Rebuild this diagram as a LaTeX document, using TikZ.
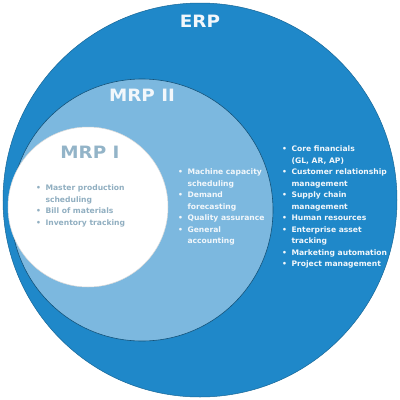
\documentclass[tikz,border=0pt]{standalone}
\usepackage{fontspec}
\setmainfont{DejaVu Sans}
\newfontfamily\headfont[FakeStretch=1.08]{DejaVu Sans}
\usetikzlibrary{positioning}
\definecolor{erpblue}{HTML}{1F88C9}
\definecolor{mrpblue}{HTML}{7CB8DF}
\definecolor{mrpgray}{HTML}{93B4C8}
\definecolor{soft}{HTML}{F2F7FB}
\newcommand{\blist}[1]{{\fontsize{7.6}{11.5}\selectfont\begin{tabular}{@{}l@{\hspace{4.5pt}}l@{}}#1\end{tabular}}}

\begin{document}
\begin{tikzpicture}[x=1pt,y=-1pt,
  ring/.style={circle,inner sep=0pt},
  head/.style={font=\headfont\bfseries\fontsize{17}{17}\selectfont},
  list/.style={font=\bfseries,anchor=north west,inner sep=0pt}]
\useasboundingbox[fill=white](0,0)rectangle(400,400);
\node[ring,fill=erpblue,draw=erpblue!75!black,line width=.5pt,minimum size=394pt](erp)at(200,200){};
\node[ring,fill=mrpblue,draw=erpblue!60!black,line width=.6pt,minimum size=262pt](mrp2)at(142,210){};
\node[ring,fill=white,draw=black!15,line width=.5pt,minimum size=160pt](mrp1)at(88,207){};
\node[head,text=soft](erpT)at(200,21){ERP};
\node[head,text=soft](mrp2T)at(142,95){MRP II};
\node[head,text=mrpgray](mrp1T)at(90,152){MRP I};
\node[list,text=mrpgray!90!gray](mrp1L)at(36,182.5){\blist{%
  \textbullet&Master production\\&scheduling\\
  \textbullet&Bill of materials\\
  \textbullet&Inventory tracking}};
\node[list,text=soft](mrp2L)at(178,166.5){\blist{%
  \textbullet&Machine capacity\\&scheduling\\
  \textbullet&Demand\\&forecasting\\
  \textbullet&Quality assurance\\
  \textbullet&General\\&accounting}};
\node[list,text=soft](erpL)at(282,143.5){\blist{%
  \textbullet&Core financials\\&(GL, AR, AP)\\
  \textbullet&Customer relationship\\&management\\
  \textbullet&Supply chain\\&management\\
  \textbullet&Human resources\\
  \textbullet&Enterprise asset\\&tracking\\
  \textbullet&Marketing automation\\
  \textbullet&Project management}};
\end{tikzpicture}
\end{document}
